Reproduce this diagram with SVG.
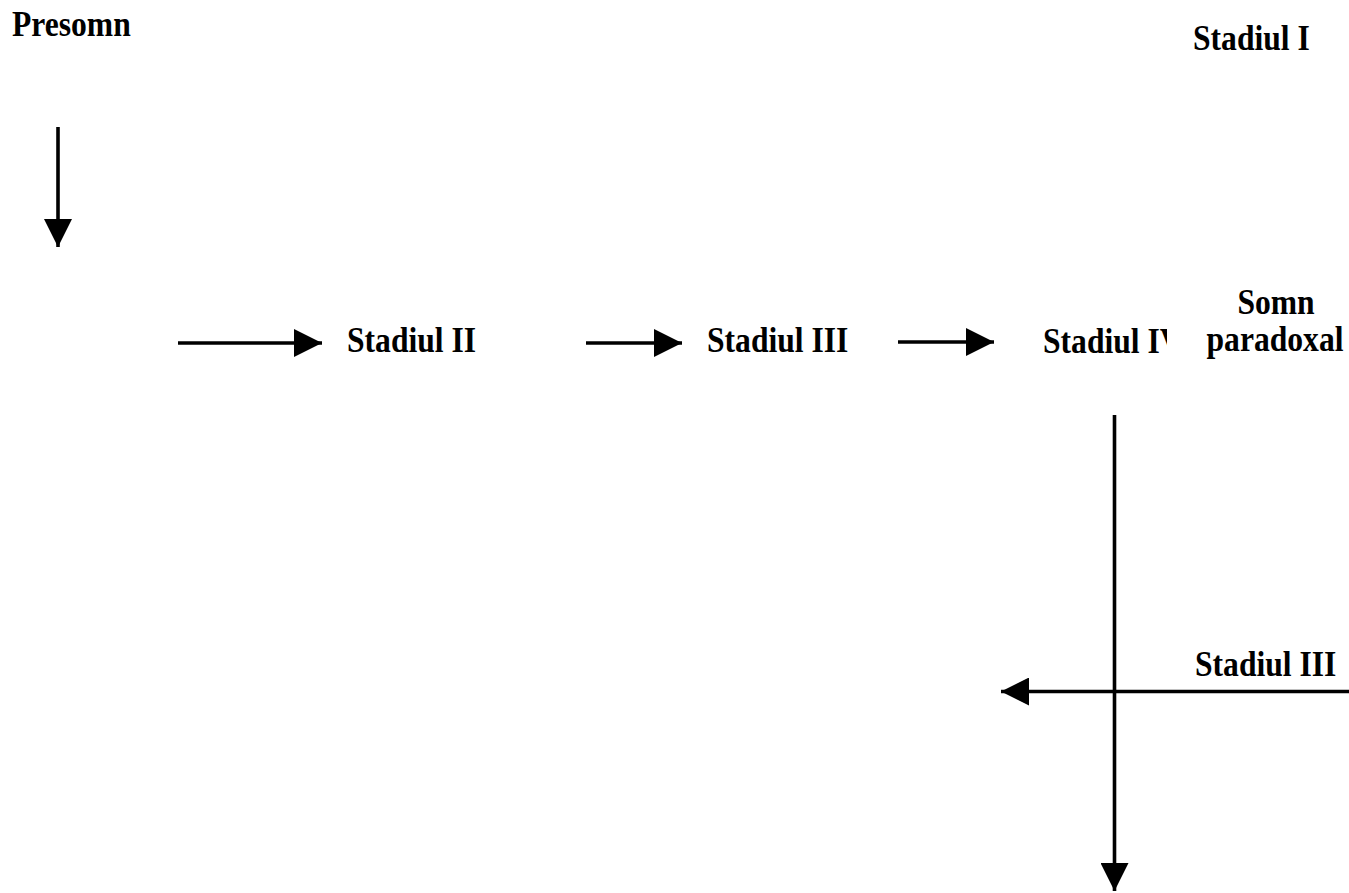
<svg xmlns="http://www.w3.org/2000/svg" width="1349" height="893" viewBox="0 0 1349 893">
<style>
.t{font-family:"Liberation Serif","Times New Roman",serif;font-weight:bold;font-size:31.6px;fill:#000}
.c{stroke:#000;stroke-width:3.6;fill:none}
</style>
<defs>
<marker id="ah" viewBox="0 0 28 28" refX="28" refY="14" markerWidth="28" markerHeight="28" markerUnits="userSpaceOnUse" orient="auto">
<path d="M0,0 L28,14 L0,28 Z" fill="#000"/>
</marker>
<clipPath id="clip4"><rect x="-10" y="-40" width="134" height="60"/></clipPath>
</defs>
<rect width="1349" height="893" fill="#fff"/>
<g id="connectors">
<line class="c" x1="58" y1="127" x2="58" y2="247" marker-end="url(#ah)"/>
<line class="c" x1="178" y1="343" x2="322" y2="343" marker-end="url(#ah)"/>
<line class="c" x1="586" y1="343" x2="682" y2="343" marker-end="url(#ah)"/>
<line class="c" x1="898" y1="342" x2="994" y2="342" marker-end="url(#ah)"/>
<line class="c" x1="1114.5" y1="415" x2="1114.5" y2="891" marker-end="url(#ah)"/>
<line class="c" x1="1349" y1="691.5" x2="1001" y2="691.5" marker-end="url(#ah)"/>
</g>
<g id="presomn"><text class="t" transform="translate(12,36) scale(1,1.1)">Presomn</text></g>
<g id="stadiul1"><text class="t" transform="translate(1193,50) scale(1,1.1)">Stadiul I</text></g>
<g id="stadiul2"><text class="t" transform="translate(347,352) scale(1,1.1)">Stadiul II</text></g>
<g id="stadiul3a"><text class="t" transform="translate(707,352) scale(1,1.1)">Stadiul III</text></g>
<g id="stadiul4"><text class="t" transform="translate(1043,353) scale(1,1.1)" clip-path="url(#clip4)">Stadiul IV</text></g>
<g id="somn"><text class="t" text-anchor="middle" transform="translate(1276,314) scale(1,1.1)">Somn</text><text class="t" text-anchor="middle" transform="translate(1275,351) scale(1,1.1)">paradoxal</text></g>
<g id="stadiul3b"><text class="t" transform="translate(1195,676) scale(1,1.1)">Stadiul III</text></g>
</svg>
